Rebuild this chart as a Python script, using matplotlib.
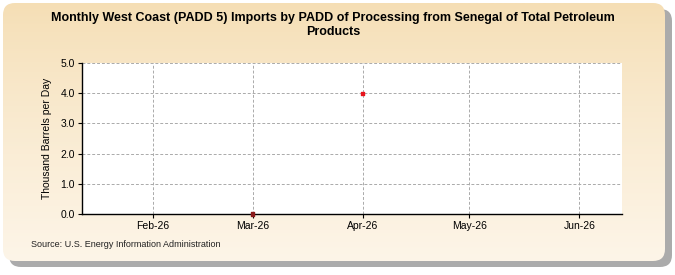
import matplotlib

matplotlib.use("Agg")
import matplotlib.pyplot as plt
import numpy as np
from datetime import datetime
from matplotlib.patches import FancyBboxPatch

plt.rcParams["font.family"] = ["Liberation Sans", "DejaVu Sans"]

TITLE = "Monthly West Coast (PADD 5) Imports by PADD of Processing from Senegal of Total Petroleum\nProducts"
Y_LABEL = "Thousand Barrels per Day"
SOURCE = "Source: U.S. Energy Information Administration"

dates = [datetime(2026, 3, 1), datetime(2026, 4, 1)]
values = [0.0, 4.0]
point_colors = ["#8b1a1a", "#e8141c"]
tick_dates = [datetime(2026, m, 1) for m in range(2, 7)]
tick_labels = ["Feb-26", "Mar-26", "Apr-26", "May-26", "Jun-26"]
y_ticks = [0.0, 1.0, 2.0, 3.0, 4.0, 5.0]

fig = plt.figure(figsize=(6.75, 2.75), dpi=100)

# background panel with shadow and gradient
bg = fig.add_axes([0, 0, 1, 1])
bg.set_xlim(0, 675)
bg.set_ylim(275, 0)
bg.axis("off")
shadow = FancyBboxPatch((9, 9), 663, 258, boxstyle="round,pad=0,rounding_size=12",
                        fc="#8f8f8f", ec="none", alpha=0.75)
bg.add_patch(shadow)
panel = FancyBboxPatch((3, 3), 662, 258, boxstyle="round,pad=0,rounding_size=12",
                       fc="none", ec="none")
bg.add_patch(panel)
grad = np.linspace(0, 1, 256).reshape(-1, 1)
top = np.array([245, 222, 180]) / 255
bottom = np.array([253, 245, 232]) / 255
img = top + (bottom - top) * grad[:, :, None] ** 0.8
im = bg.imshow(img, extent=[3, 665, 261, 3], aspect="auto", zorder=1)
im.set_clip_path(panel)

fig.text(0.493, 0.955, TITLE, ha="center", va="top", fontsize=9, fontweight="bold",
         linespacing=1.2)
fig.text(0.046, 0.112, SOURCE, ha="left", va="center", fontsize=6.5, color="#222222")

ax = fig.add_axes([82 / 675, 1 - 214 / 275, 540 / 675, 151 / 275])
ax.set_facecolor("white")
ax.scatter(dates, values, c=point_colors, s=5, marker="s", zorder=5, clip_on=False)

ax.set_xlim(datetime(2026, 1, 12), datetime(2026, 6, 13))
ax.set_ylim(0, 5)
ax.set_xticks(tick_dates)
ax.set_xticklabels(tick_labels)
ax.set_yticks(y_ticks)
ax.set_yticklabels([f"{v:.1f}" for v in y_ticks])
ax.tick_params(labelsize=7.5, length=3, color="black", pad=2)
ax.grid(True, linestyle=(0, (3, 2)), color="#aaaaaa", linewidth=0.7)
ax.set_axisbelow(True)
for side in ["top", "right"]:
    ax.spines[side].set_visible(False)
for side in ["left", "bottom"]:
    ax.spines[side].set_linewidth(1.0)
ax.set_ylabel(Y_LABEL, fontsize=7.5, labelpad=6)

fig.savefig("out.png", dpi=100)
